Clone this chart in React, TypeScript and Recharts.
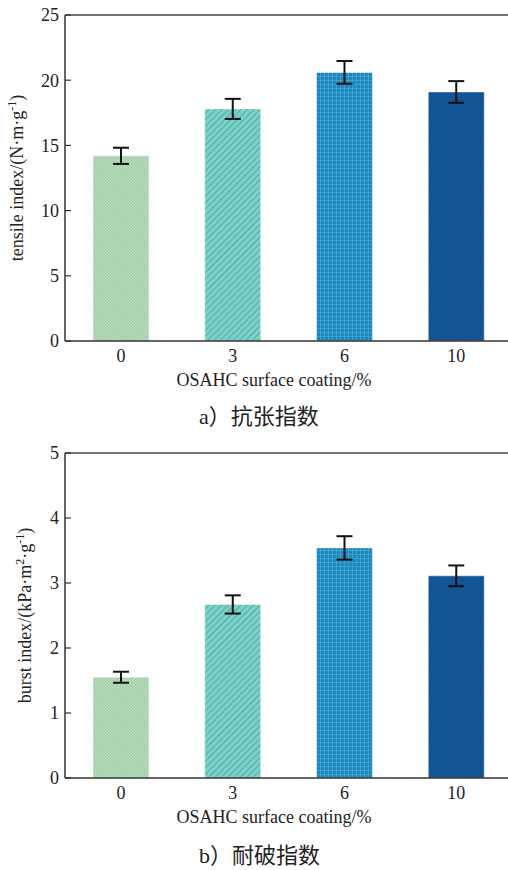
import { BarChart, Bar, XAxis, YAxis, ErrorBar, Cell, ReferenceLine } from "recharts"

const categories = ["0", "3", "6", "10"]

const tensile = [14.2, 17.8, 20.6, 19.1]
const tensileErr = [0.62, 0.77, 0.87, 0.83]
const tensileTicks = [0, 5, 10, 15, 20, 25]

const burst = [1.55, 2.67, 3.54, 3.11]
const burstErr = [0.085, 0.14, 0.18, 0.16]
const burstTicks = [0, 1, 2, 3, 4, 5]

const serif = "'Liberation Serif', 'DejaVu Serif', serif"
const cjk = "'Noto Sans CJK SC', sans-serif"

function Patterns({ id }: { id: string }) {
  return (
    <defs>
      <pattern id={`${id}-0`} width="3" height="3" patternUnits="userSpaceOnUse">
        <rect width="3" height="3" fill="#bde0c0" />
        <rect width="1.5" height="1.5" fill="#9ccaa2" />
        <rect x="1.5" y="1.5" width="1.5" height="1.5" fill="#9ccaa2" />
      </pattern>
      <pattern id={`${id}-1`} width="4.5" height="4.5" patternUnits="userSpaceOnUse" patternTransform="rotate(45)">
        <rect width="4.5" height="4.5" fill="#7bd0ca" />
        <line x1="0" y1="0" x2="0" y2="4.5" stroke="#4aa5a3" strokeWidth="1.6" />
      </pattern>
      <pattern id={`${id}-2`} width="4" height="4" patternUnits="userSpaceOnUse">
        <rect width="4" height="4" fill="#1b87bd" />
        <line x1="0" y1="0.5" x2="4" y2="0.5" stroke="#3f9fcf" strokeWidth="1" />
        <line x1="0.5" y1="0" x2="0.5" y2="4" stroke="#3f9fcf" strokeWidth="1" />
      </pattern>
      <pattern id={`${id}-3`} width="3" height="3" patternUnits="userSpaceOnUse">
        <rect width="3" height="3" fill="#0c4d8d" />
        <rect width="1.5" height="1.5" fill="#1b5d9c" />
        <rect x="1.5" y="1.5" width="1.5" height="1.5" fill="#1b5d9c" />
      </pattern>
    </defs>
  )
}

interface PanelProps {
  id: string
  values: number[]
  errors: number[]
  ticks: number[]
  top: number
  height: number
  yLabelX: number
  yLabel: React.ReactNode
  caption: string
  captionLetter: string
  captionTop: number
}

function Panel(p: PanelProps) {
  const data = categories.map((c, i) => ({ name: c, value: p.values[i], err: p.errors[i] }))
  const max = p.ticks[p.ticks.length - 1]
  const midY = 15 + (p.height - 74) / 2
  return (
    <>
      <div style={{ position: "absolute", left: 0, top: p.top }}>
        <BarChart width={512} height={p.height} data={data} margin={{ top: 15, right: 0, left: 0, bottom: 0 }}>
          <Patterns id={p.id} />
          <XAxis
            dataKey="name"
            height={59}
            tickLine={false}
            tickSize={0}
            tickMargin={8}
            axisLine={{ stroke: "#333", strokeWidth: 1.5 }}
            tick={{ fill: "#222", fontSize: 18, fontFamily: serif }}
            label={{
              content: () => (
                <text x={274} y={p.height - 14} textAnchor="middle" fill="#222" fontSize={18} fontFamily={serif}>
                  OSAHC surface coating/%
                </text>
              ),
            }}
          />
          <YAxis
            width={65}
            domain={[0, max]}
            ticks={p.ticks}
            interval={0}
            tickSize={-6}
            tickMargin={12}
            tickLine={{ stroke: "#333", strokeWidth: 1.2 }}
            axisLine={{ stroke: "#333", strokeWidth: 1.5 }}
            tick={{ fill: "#222", fontSize: 18, fontFamily: serif }}
            label={{
              content: () => (
                <text
                  x={p.yLabelX}
                  y={midY}
                  transform={`rotate(-90, ${p.yLabelX}, ${midY})`}
                  textAnchor="middle"
                  fill="#222"
                  fontSize={18}
                  fontFamily={serif}
                >
                  {p.yLabel}
                </text>
              ),
            }}
          />
          <ReferenceLine y={max} stroke="#444" strokeWidth={1.5} />
          <Bar dataKey="value" barSize={56} isAnimationActive={false} stroke="rgba(255,255,255,0.45)" strokeWidth={1}>
            {data.map((_, i) => (
              <Cell key={i} fill={`url(#${p.id}-${i})`} />
            ))}
            <ErrorBar dataKey="err" direction="y" width={8} stroke="#111" strokeWidth={2} isAnimationActive={false} />
          </Bar>
        </BarChart>
      </div>
      <div
        style={{
          position: "absolute",
          left: 199,
          top: p.captionTop,
          fontSize: 22,
          lineHeight: "22px",
          color: "#222",
          whiteSpace: "nowrap",
        }}
      >
        <span style={{ fontFamily: serif }}>{p.captionLetter}</span>
        <span style={{ fontFamily: cjk }}>{p.caption}</span>
      </div>
    </>
  )
}

export default function App() {
  return (
    <div style={{ position: "absolute", left: 0, top: 0, width: 508, height: 870, overflow: "hidden", background: "#fff" }}>
      <Panel
        id="ta"
        values={tensile}
        errors={tensileErr}
        ticks={tensileTicks}
        top={0}
        height={400}
        yLabelX={23}
        yLabel={
          <>
            tensile index/(N·m·g<tspan dy={-7} fontSize={12}>-1</tspan>
            <tspan dy={7}>)</tspan>
          </>
        }
        captionLetter="a"
        caption="）抗张指数"
        captionTop={403}
      />
      <Panel
        id="tb"
        values={burst}
        errors={burstErr}
        ticks={burstTicks}
        top={438}
        height={399}
        yLabelX={31}
        yLabel={
          <>
            burst index/(kPa·m<tspan dy={-7} fontSize={12}>2</tspan>
            <tspan dy={7}>·g</tspan>
            <tspan dy={-7} fontSize={12}>-1</tspan>
            <tspan dy={7}>)</tspan>
          </>
        }
        captionLetter="b"
        caption="）耐破指数"
        captionTop={842}
      />
    </div>
  )
}
